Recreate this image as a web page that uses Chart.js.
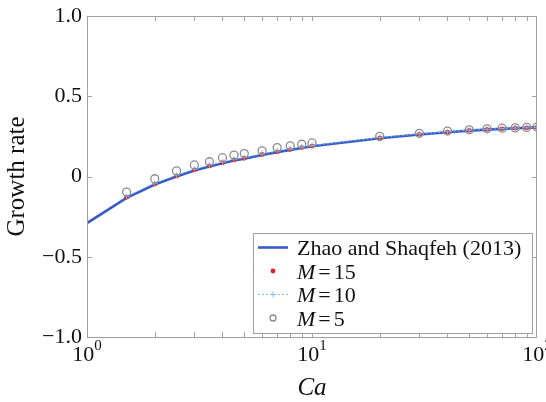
<!DOCTYPE html>
<html>
<head>
<meta charset="utf-8">
<script src="https://cdn.jsdelivr.net/npm/chart.js@4/dist/chart.umd.min.js"></script>
<style>
  html, body { margin: 0; padding: 0; background: #fff; }
  #wrap { width: 546px; height: 402px; position: relative; }
</style>
</head>
<body>
<div id="wrap"><canvas id="c" width="546" height="402"></canvas></div>
<script>
// Capillary number samples
const caModel = [1, 1.5, 2, 2.5, 3, 3.5, 4, 4.5, 5, 6, 7, 8, 9, 10, 20, 30, 40, 50, 60, 70, 80, 90, 100];
const caSim   = [1.5, 2, 2.5, 3, 3.5, 4, 4.5, 5, 6, 7, 8, 9, 10, 20, 30, 40, 50, 60, 70, 80, 90, 100];

// Growth rate: Zhao and Shaqfeh (2013)
const growthZhao = [-0.29, -0.133, -0.05, 0.0, 0.038, 0.063, 0.083, 0.1, 0.111, 0.134, 0.152, 0.166, 0.178, 0.188,
                    0.238, 0.262, 0.276, 0.286, 0.292, 0.297, 0.301, 0.303, 0.306];
// Growth rate for M = 15, 10, 5
const growthM15 = [-0.129, -0.047, 0.004, 0.041, 0.066, 0.086, 0.103, 0.113, 0.137, 0.154, 0.168, 0.18, 0.189,
                   0.24, 0.263, 0.277, 0.287, 0.293, 0.297, 0.302, 0.303, 0.306];
const growthM10 = [-0.124, -0.042, 0.008, 0.045, 0.07, 0.09, 0.107, 0.117, 0.141, 0.158, 0.172, 0.184, 0.193,
                   0.243, 0.265, 0.279, 0.289, 0.294, 0.298, 0.302, 0.304, 0.307];
const growthM5  = [-0.097, -0.014, 0.035, 0.072, 0.092, 0.117, 0.133, 0.143, 0.16, 0.18, 0.191, 0.201, 0.209,
                   0.25, 0.269, 0.283, 0.291, 0.297, 0.301, 0.303, 0.306, 0.308];

// Axis ticks
const yTicks = [-1, -0.5, 0, 0.5, 1];
const yTickLabels = ['\u22121.0', '\u22120.5', '0', '0.5', '1.0'];
const xMajorTicks = [1, 10, 100];
const xMajorExponents = ['0', '1', '2'];
const xMinorTicks = [2, 3, 4, 5, 6, 7, 8, 9, 20, 30, 40, 50, 60, 70, 80, 90];

const SERIF = '"Liberation Serif", "DejaVu Serif", serif';
const BLUE = 'rgb(55, 92, 200)';
const RED = 'rgb(228, 30, 36)';
const LIGHT = 'rgba(125, 185, 232, 0.9)';
const GREY = 'rgb(140, 140, 140)';
const FRAME = 'rgb(160, 160, 160)';

const pts = (xs, ys) => xs.map((x, i) => ({ x: x, y: ys[i] }));

const datasets = [
  { label: 'M = 5', data: pts(caSim, growthM5), showLine: false,
    pointStyle: 'circle', pointRadius: 4, borderWidth: 1.3, borderColor: GREY,
    pointBorderColor: GREY, pointBackgroundColor: 'rgba(0,0,0,0)' },
  { label: 'M = 10', data: pts(caSim, growthM10), borderColor: LIGHT, borderWidth: 1,
    borderDash: [2, 2], pointStyle: 'cross', pointRadius: 3, pointBorderColor: LIGHT,
    pointBorderWidth: 1, tension: 0 },
  { label: 'M = 15', data: pts(caSim, growthM15), showLine: false,
    pointStyle: 'circle', pointRadius: 2.4, borderWidth: 0, pointBorderWidth: 0,
    pointBackgroundColor: RED, borderColor: RED },
  { label: 'Zhao and Shaqfeh (2013)', data: pts(caModel, growthZhao), borderColor: BLUE,
    borderWidth: 2.6, pointRadius: 0, tension: 0 }
];

// Box frame, inward tick marks and power-of-ten labels
const framePlugin = {
  id: 'frame',
  afterDatasetsDraw(chart) {
    const { ctx, chartArea: a, scales: { x, y } } = chart;
    ctx.save();
    ctx.strokeStyle = FRAME;
    ctx.lineWidth = 1;
    ctx.strokeRect(Math.round(a.left) + 0.5, Math.round(a.top) + 0.5,
                   Math.round(a.right - a.left) - 1, Math.round(a.bottom - a.top));
    ctx.beginPath();
    const tl = 5;
    xMinorTicks.concat(xMajorTicks.slice(1, -1)).forEach(v => {
      const px = Math.round(x.getPixelForValue(v)) + 0.5;
      ctx.moveTo(px, a.bottom); ctx.lineTo(px, a.bottom - tl);
      ctx.moveTo(px, a.top); ctx.lineTo(px, a.top + tl);
    });
    yTicks.slice(1, -1).forEach(v => {
      const py = Math.round(y.getPixelForValue(v)) + 0.5;
      ctx.moveTo(a.left, py); ctx.lineTo(a.left + tl, py);
      ctx.moveTo(a.right, py); ctx.lineTo(a.right - tl, py);
    });
    ctx.stroke();

    // x labels 10^n
    ctx.fillStyle = '#111';
    ctx.textBaseline = 'alphabetic';
    ctx.textAlign = 'left';
    xMajorTicks.forEach((v, i) => {
      const px = x.getPixelForValue(v);
      ctx.font = '22px ' + SERIF;
      const wb = ctx.measureText('10').width;
      ctx.font = '15px ' + SERIF;
      const we = ctx.measureText(xMajorExponents[i]).width;
      const x0 = px - (wb + we) / 2;
      ctx.font = '22px ' + SERIF;
      ctx.fillText('10', x0, a.bottom + 24);
      ctx.font = '15px ' + SERIF;
      ctx.fillText(xMajorExponents[i], x0 + wb, a.bottom + 13);
    });
    ctx.restore();
  }
};

// Legend box inside the plot area
const legendPlugin = {
  id: 'boxLegend',
  afterDraw(chart) {
    const { ctx, chartArea: a } = chart;
    const right = a.right - 5, bottom = a.bottom - 4;
    const w = 279, h = 100;
    const left = right - w, top = bottom - h;
    ctx.save();
    ctx.fillStyle = '#fff';
    ctx.fillRect(left, top, w, h);
    ctx.strokeStyle = FRAME;
    ctx.lineWidth = 1;
    ctx.strokeRect(Math.round(left) + 0.5, Math.round(top) + 0.5, w, h);

    const sx0 = left + 5, sx1 = left + 35, sxc = left + 20, tx = left + 44;
    const rows = [
      { kind: 'line', name: ['Zhao and Shaqfeh (2013)'] },
      { kind: 'red', name: ['M', '15'] },
      { kind: 'light', name: ['M', '10'] },
      { kind: 'grey', name: ['M', '5'] }
    ];
    const H = Chart.helpers;
    rows.forEach((r, i) => {
      const base = top + 22 + i * 23.5;
      const cy = base - 7.5;
      if (r.kind === 'line') {
        ctx.strokeStyle = BLUE; ctx.lineWidth = 2.6;
        ctx.beginPath(); ctx.moveTo(sx0, cy); ctx.lineTo(sx1, cy); ctx.stroke();
      } else if (r.kind === 'red') {
        ctx.fillStyle = RED;
        H.drawPoint(ctx, { pointStyle: 'circle', radius: 2.4, borderWidth: 0, rotation: 0 }, sxc, cy);
      } else if (r.kind === 'light') {
        ctx.strokeStyle = LIGHT; ctx.lineWidth = 1; ctx.setLineDash([2, 2]);
        ctx.beginPath(); ctx.moveTo(sx0, cy); ctx.lineTo(sx1, cy); ctx.stroke();
        ctx.setLineDash([]);
        H.drawPoint(ctx, { pointStyle: 'cross', radius: 3, borderWidth: 1, rotation: 0 }, sxc, cy);
      } else {
        ctx.strokeStyle = GREY; ctx.lineWidth = 1.3; ctx.fillStyle = 'rgba(0,0,0,0)';
        H.drawPoint(ctx, { pointStyle: 'circle', radius: 3, borderWidth: 1.3, rotation: 0 }, sxc, cy);
      }
      ctx.fillStyle = '#111';
      ctx.textBaseline = 'alphabetic';
      ctx.textAlign = 'left';
      if (r.name.length === 1) {
        ctx.font = '22px ' + SERIF;
        ctx.fillText(r.name[0], tx, base);
      } else {
        let xx = tx;
        ctx.font = 'italic 22px ' + SERIF;
        ctx.fillText(r.name[0], xx, base);
        xx += ctx.measureText(r.name[0]).width + 3;
        ctx.font = '22px ' + SERIF;
        ctx.fillText('=', xx, base);
        xx += ctx.measureText('=').width + 3;
        ctx.fillText(r.name[1], xx, base);
      }
    });
    ctx.restore();
  }
};

new Chart(document.getElementById('c'), {
  type: 'line',
  data: { datasets: datasets },
  options: {
    responsive: false,
    animation: false,
    layout: { padding: { top: 13, right: 9, left: 0, bottom: 0 } },
    plugins: { legend: { display: false }, tooltip: { enabled: false } },
    scales: {
      x: {
        type: 'logarithmic', min: 1, max: 100,
        grid: { display: false, drawTicks: false },
        border: { display: false },
        ticks: { display: false },
        title: { display: true, text: 'Ca', color: '#111',
                 font: { family: SERIF, size: 25, style: 'italic', lineHeight: 1 },
                 padding: { top: 0, bottom: 1 } },
        afterFit(s) { s.height = 65; }
      },
      y: {
        type: 'linear', min: -1, max: 1,
        afterBuildTicks(s) { s.ticks = yTicks.map(v => ({ value: v })); },
        grid: { display: false, drawTicks: false },
        border: { display: false },
        ticks: { color: '#111', padding: 5,
                 font: { family: SERIF, size: 22, lineHeight: 1 },
                 callback: (v) => yTickLabels[yTicks.indexOf(v)] },
        title: { display: true, text: 'Growth rate', color: '#111',
                 font: { family: SERIF, size: 25, lineHeight: 1 },
                 padding: { top: 5, bottom: 0 } },
        afterFit(s) { s.width = 87; }
      }
    }
  },
  plugins: [framePlugin, legendPlugin]
});
</script>
</body>
</html>
